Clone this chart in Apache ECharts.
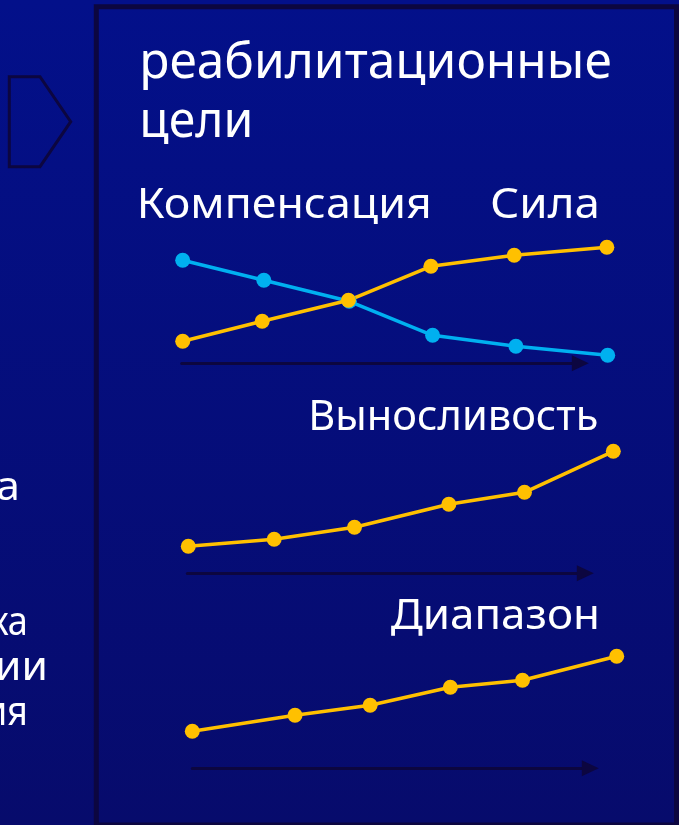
<!DOCTYPE html>
<html><head><meta charset="utf-8">
<script src="https://cdn.jsdelivr.net/npm/echarts@6/dist/echarts.min.js"></script>
<style>html,body{margin:0;padding:0;background:#04108a;}#c{width:679px;height:825px;}</style>
</head><body><div id="c"></div>
<script>
// ---- data ----
const compensationX = [0, 1.91, 3.92, 5.88, 7.84, 10];
const compensationY = [10.3, 8.3, 6.2, 2.8, 1.7, 0.8];
const strengthX = [0, 1.87, 3.9, 5.84, 7.8, 9.98];
const strengthY = [2.2, 4.2, 6.3, 9.7, 10.8, 11.6];
const enduranceX = [0, 2.02, 3.91, 6.13, 7.91, 10];
const enduranceY = [2.7, 3.4, 4.6, 6.9, 8.1, 12.2];
const rangeX = [0, 2.42, 4.19, 6.08, 7.78, 10];
const rangeY = [3.7, 5.3, 6.3, 8.1, 8.8, 11.2];
const titleLines = ['реабилитационные', 'цели'];
const seriesNames = ['Компенсация', 'Сила', 'Выносливость', 'Диапазон'];
const leftFragments = ['а', 'ка', 'дии', 'ия'];

const FONT = '"Noto Sans", "DejaVu Sans", sans-serif';
const mc = document.createElement('canvas').getContext('2d');
function textEl(str, size, left, right, baseline) {
  mc.font = size + 'px ' + FONT;
  mc.textBaseline = 'middle';
  const m = mc.measureText(str);
  const mH = mc.measureText('Н');
  let d = mH.actualBoundingBoxDescent;
  if (!(d > 0.1 * size && d < 0.6 * size)) d = 0.3 * size;
  const sx = (right - left) / m.width;
  return {
    type: 'text', x: left, y: baseline - d, scaleX: sx, silent: true,
    style: { text: str, fill: '#ffffff', font: size + 'px ' + FONT, textAlign: 'left', textVerticalAlign: 'middle', verticalAlign: 'middle' }
  };
}
function fragEl(str, size, right, baseline, sx) {
  mc.font = size + 'px ' + FONT;
  const w = mc.measureText(str).width * sx;
  return textEl(str, size, right - w, right, baseline);
}
const zip = (xs, ys) => xs.map((x, i) => [x, ys[i]]);

const chart = echarts.init(document.getElementById('c'), null, { renderer: 'canvas' });
const BLUE = '#00b0f0', YELLOW = '#ffc000', DARK = '#0c0640';

// data grids (span first to last point) and arrow grids (span the arrow)
const dataGrids = [
  { left: 182.7, top: 243.3, width: 425, height: 120 },
  { left: 188.3, top: 453.3, width: 425, height: 120 },
  { left: 192.3, top: 648.3, width: 424.4, height: 120 }
];
const arrowGrids = [
  { left: 181.7, top: 243.3, width: 398.6, height: 120 },
  { left: 187.3, top: 453.3, width: 398, height: 120 },
  { left: 192.3, top: 648.3, width: 398, height: 120 }
];
const grids = dataGrids.concat(arrowGrids);
const xAxes = grids.map((g, i) => {
  const isArrow = i >= 3;
  return {
    type: 'value', gridIndex: i, min: 0, max: 10, position: 'bottom', show: isArrow,
    axisLine: { show: isArrow, onZero: false, symbol: ['none', 'triangle'], symbolSize: [16, 17], lineStyle: { color: DARK, width: 3 } },
    axisTick: { show: false }, axisLabel: { show: false }, splitLine: { show: false }
  };
});
const yAxes = grids.map((g, i) => ({
  type: 'value', gridIndex: i, min: 0, max: 12, show: false, splitLine: { show: false }
}));
function lineSeries(name, idx, data, color) {
  return {
    name, type: 'line', xAxisIndex: idx, yAxisIndex: idx, data, clip: false,
    symbol: 'circle', symbolSize: 15, showSymbol: true,
    lineStyle: { color, width: 3.5 }, itemStyle: { color }, z: 3
  };
}

const graphics = [
  { type: 'rect', z: -10, silent: true, shape: { x: 0, y: 0, width: 679, height: 825 },
    style: { fill: { type: 'linear', x: 0, y: 0, x2: 0, y2: 1, colorStops: [{ offset: 0, color: '#03108a' }, { offset: 1, color: '#070b6c' }] } } },
  { type: 'rect', silent: true, shape: { x: 96.3, y: 6.8, width: 580.2, height: 818.2 },
    style: { fill: 'none', stroke: DARK, lineWidth: 5 } },
  { type: 'polygon', silent: true, shape: { points: [[9.3, 76.7], [40, 76.7], [70.7, 121.7], [40, 166.7], [9.3, 166.7]] },
    style: { fill: 'none', stroke: DARK, lineWidth: 3 } },
  textEl(titleLines[0], 50, 139.3, 611.7, 78.3),
  textEl(titleLines[1], 50, 139.3, 253.3, 137),
  textEl(seriesNames[0], 42, 136.7, 431.7, 218.3),
  textEl(seriesNames[1], 42, 490, 600, 218.3),
  textEl(seriesNames[2], 42, 308.3, 598.3, 430),
  textEl(seriesNames[3], 42, 390.7, 600, 629.3)
];
const fragScale = graphics[5].scaleX;
graphics.push(fragEl(leftFragments[0], 40, 20, 500, fragScale));
graphics.push(fragEl(leftFragments[1], 40, 28, 635, fragScale * 0.85));
graphics.push(fragEl(leftFragments[2], 40, 48, 680, fragScale));
graphics.push(fragEl(leftFragments[3], 40, 28, 725, fragScale * 0.85));

chart.setOption({
  animation: false,
  grid: grids,
  xAxis: xAxes,
  yAxis: yAxes,
  graphic: { elements: graphics },
  series: [
    lineSeries(seriesNames[0], 0, zip(compensationX, compensationY), BLUE),
    lineSeries(seriesNames[1], 0, zip(strengthX, strengthY), YELLOW),
    lineSeries(seriesNames[2], 1, zip(enduranceX, enduranceY), YELLOW),
    lineSeries(seriesNames[3], 2, zip(rangeX, rangeY), YELLOW)
  ]
});
</script></body></html>
